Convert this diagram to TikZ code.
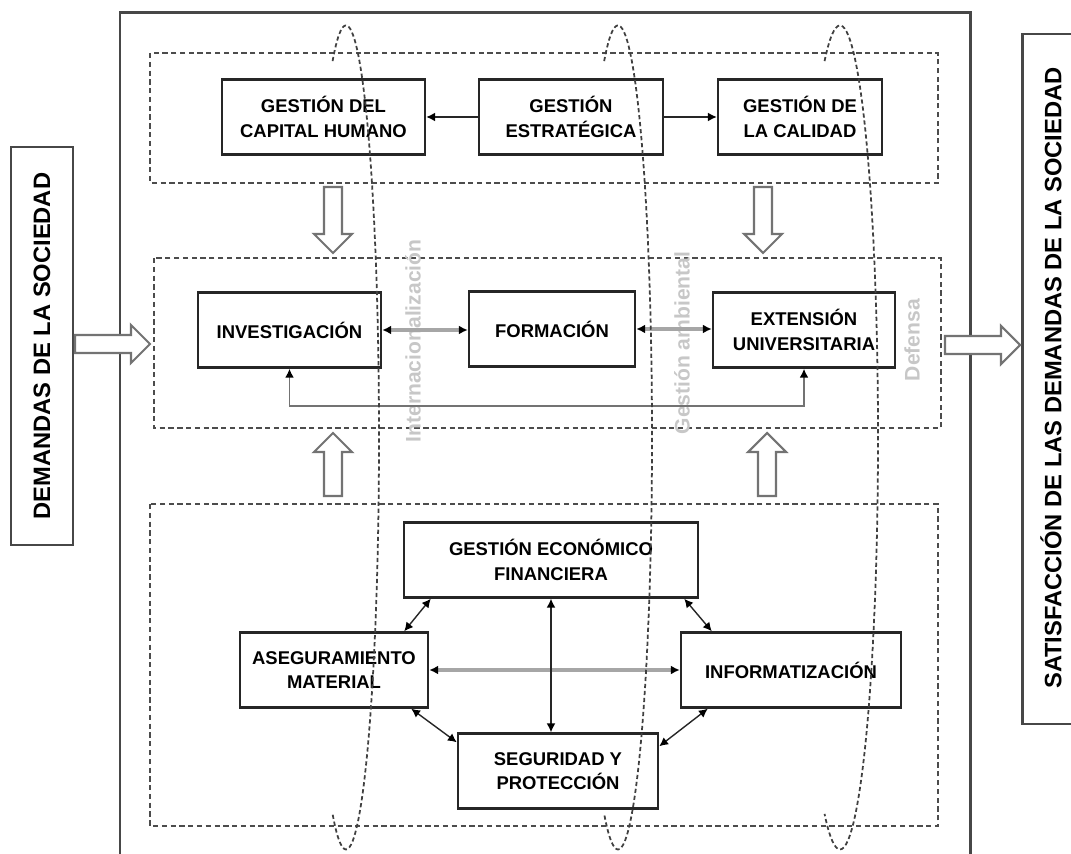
\documentclass[tikz,border=0pt]{standalone}
\usepackage{fontspec}
\setmainfont{Liberation Sans}
\usetikzlibrary{arrows.meta,calc}

\begin{document}
\begin{tikzpicture}
[x=0.02cm, y=-0.02cm,
  >={Latex[length=5pt,width=5pt,color=black]},
  boxDecorate/.style={shape=rectangle,draw=black!85,line width=1.4pt,fill=white,
    align=center,inner sep=2pt,minimum height=1.5cm,
    font=\fontsize{10.5}{14}\selectfont\bfseries},
  sideDecorate/.style={rotate=90,inner sep=0pt,font=\fontsize{13.5}{16}\selectfont\bfseries},
  labelDecorate/.style={rotate=90,text=black!22,font=\fontsize{12}{14}\selectfont\bfseries},
  regionDecorate/.style={draw=black!70,line width=0.8pt,dash pattern=on 3pt off 2pt},
  frameDecorate/.style={draw=black!72,line width=1.7pt},
  hollowDecorate/.style={draw=black!55,line width=1.2pt,fill=white,line join=miter},
  lineDecorate/.style={line width=0.8pt,draw=black!85},
  grayDecorate/.style={line width=2.2pt,draw=black!35},
  loopDecorate/.style={line width=1.1pt,draw=black!55},
  ringDecorate/.style={draw=black!75,line width=1pt,dash pattern=on 2.4pt off 1.6pt}]
\useasboundingbox (0,0) rectangle (1071,854);
\clip (0,0) rectangle (1071,854);
%% frame and levels
\draw[frameDecorate] (120,870) -- (120,13) -- (970,13) -- (970,870);
\draw[regionDecorate] (150,53) rectangle (938,183);
\draw[regionDecorate] (154,258) rectangle (941,428);
\draw[regionDecorate] (150,504) rectangle (938,826);
%% society at both sides
\node (demandas) at (42,346) [sideDecorate,draw=black!72,line width=1.5pt,
  minimum width=7.96cm,minimum height=1.24cm] {DEMANDAS DE LA SOCIEDAD};
\draw[frameDecorate] (1090,34) -| (1022,724) -- (1090,724);
\node (satisfaccion) at (1051,378) [sideDecorate] {SATISFACCIÓN DE LAS DEMANDAS DE LA SOCIEDAD};
%% hollow arrows
\foreach \x/\y/\ang/\len in {
  75/344/0/75, 945/345/0/75,
  333/187/-90/66, 763/187/-90/66,
  333/496/90/63, 767/496/90/63}
{
  \draw[hollowDecorate,shift={(\x,\y)},rotate=\ang]
    (0,-9) -- (\len-19,-9) -- (\len-19,-19) -- (\len,0) -- (\len-19,19) -- (\len-19,9) -- (0,9) -- cycle;
}
%% crossing processes
\node (internacional) at (413,341) [labelDecorate] {Internacionalización};
\node (ambiental) at (682,343) [labelDecorate] {Gestión ambiental};
\node (defensa) at (912,340) [labelDecorate] {Defensa};
%% boxes
\foreach \nodename/\x/\y/\w/\txt in {
  capital/323.5/117/203/{GESTIÓN DEL\\CAPITAL HUMANO},
  estrategica/571/117/184/{GESTIÓN\\ESTRATÉGICA},
  calidad/800/117/164/{GESTIÓN DE\\LA CALIDAD},
  investigacion/289.5/330/183/{INVESTIGACIÓN},
  formacion/552/329/166/{FORMACIÓN},
  extension/804/330/182/{EXTENSIÓN\\UNIVERSITARIA},
  economico/551/560/294/{GESTIÓN ECONÓMICO\\FINANCIERA},
  aseguramiento/334/670/188/{ASEGURAMIENTO\\MATERIAL},
  informatizacion/791/670/220/{INFORMATIZACIÓN},
  seguridad/558/771/200/{SEGURIDAD Y\\PROTECCIÓN}}
{
  \node (\nodename) at (\x,\y) [boxDecorate,minimum width=\w*0.02cm] {\txt};
}
%% edges
\draw[lineDecorate,->] (estrategica.west) -- (capital.east);
\draw[lineDecorate,->] (estrategica.east) -- (calidad.west);
\draw[grayDecorate,<->] (investigacion.east) -- (investigacion.east -| formacion.west);
\draw[grayDecorate,<->] (formacion.east) -- (formacion.east -| extension.west);
\draw[loopDecorate,<->] (investigacion.south) -- ++(0,37) -| (extension.south);
\draw[grayDecorate,<->] (aseguramiento.east) -- (informatizacion.west);
\draw[lineDecorate,<->] (economico.south) -- (economico.south |- seguridad.north);
\draw[lineDecorate,<->] ($(economico.south west)+(28,0)$) -- ($(aseguramiento.north east)+(-25,0)$);
\draw[lineDecorate,<->] ($(economico.south east)+(-15,0)$) -- ($(informatizacion.north west)+(32,0)$);
\draw[lineDecorate,<->] ($(aseguramiento.south east)+(-18,0)$) -- ($(seguridad.north west)+(0,10)$);
\draw[lineDecorate,<->] ($(informatizacion.south west)+(28,0)$) -- ($(seguridad.north east)+(0,14)$);
%% rings
\foreach \cx/\rx in {346/33, 618/34, 840/38}
{
  \draw[ringDecorate] (\cx,437.5) ++(-114:{\rx} and 412)
    arc[start angle=-114,end angle=114,x radius=\rx,y radius=412];
}
\end{tikzpicture}
\end{document}
